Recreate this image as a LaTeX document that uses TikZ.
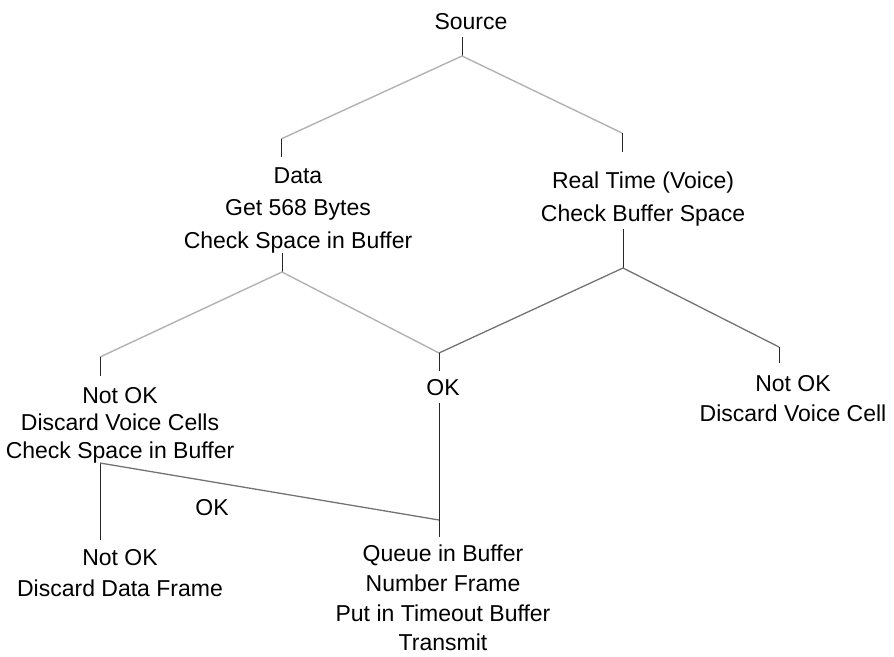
\documentclass[tikz,border=0pt]{standalone}
\usepackage{fontspec}
\setmainfont{Liberation Sans}
\begin{document}
\begin{tikzpicture}[x=1pt,y=-1pt,
  lbl/.style={anchor=north,inner sep=0pt,align=center,font=\fontsize{23}{31}\selectfont},
  stub/.style={draw=black!85,line width=0.9pt},
  faint/.style={draw=black!30,line width=1.4pt},
  mid/.style={draw=black!55,line width=1.3pt}]
\path[use as bounding box] (0,0) rectangle (894,656);

% text nodes
\node[lbl] (src) at (471,13) {Source};
\node[lbl,font=\fontsize{23}{32.5}\selectfont] (data) at (298,167) {Data\\Get 568 Bytes\\Check Space in Buffer};
\node[lbl,font=\fontsize{23}{33}\selectfont] (real) at (643,172) {Real Time (Voice)\\Check Buffer Space};
\node[lbl] (ok) at (443,379) {OK};
\node[lbl,font=\fontsize{23}{30}\selectfont] (rnot) at (793,375) {Not OK\\Discard Voice Cell};
\node[lbl,font=\fontsize{23}{27.5}\selectfont] (lnot) at (120,387) {Not OK\\Discard Voice Cells\\Check Space in Buffer};
\node[lbl] (oklbl) at (212,499) {OK};
\node[lbl,font=\fontsize{23}{31}\selectfont] (dnot) at (120,549) {Not OK\\Discard Data Frame};
\node[lbl,font=\fontsize{23}{29.7}\selectfont] (queue) at (443,545) {Queue in Buffer\\Number Frame\\Put in Timeout Buffer\\Transmit};

% connector points
\coordinate (s0) at (462,37);
\coordinate (j0) at (462,56);
\coordinate (dtop) at (281,139);
\coordinate (dbot) at (281,157);
\coordinate (rtop) at (622,133);
\coordinate (rbot) at (622,152);
\coordinate (d1) at (282,253);
\coordinate (j1) at (282,272);
\coordinate (ntop) at (100,357);
\coordinate (nbot) at (100,376);
\coordinate (oktop) at (439,353);
\coordinate (okbot) at (439,371);
\coordinate (r1) at (623,229);
\coordinate (j2) at (623,268);
\coordinate (rntop) at (779,347);
\coordinate (rnbot) at (779,363);
\coordinate (ok1) at (439,403);
\coordinate (qtop) at (439,537);
\coordinate (qjoin) at (439,520);
\coordinate (j3) at (100,463);
\coordinate (dntop) at (100,540);

% connectors
\draw[stub] (s0) -- (j0);
\draw[faint] (j0) -- (dtop);
\draw[faint] (j0) -- (rtop);
\draw[stub] (dtop) -- (dbot);
\draw[stub] (rtop) -- (rbot);
\draw[stub] (d1) -- (j1);
\draw[faint] (j1) -- (ntop);
\draw[faint] (j1) -- (oktop);
\draw[stub] (ntop) -- (nbot);
\draw[stub] (r1) -- (j2);
\draw[mid] (j2) -- (oktop);
\draw[mid] (j2) -- (rntop);
\draw[stub] (rntop) -- (rnbot);
\draw[stub] (oktop) -- (okbot);
\draw[stub] (ok1) -- (qtop);
\draw[stub] (j3) -- (dntop);
\draw[mid] (j3) -- (qjoin);
\end{tikzpicture}
\end{document}
